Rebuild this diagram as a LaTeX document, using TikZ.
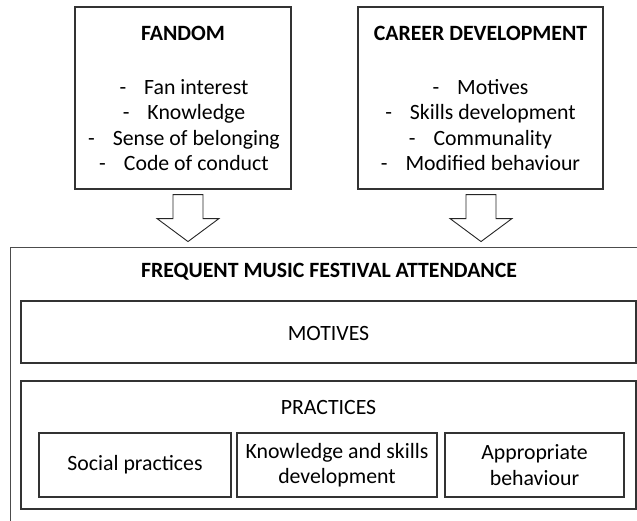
\documentclass[tikz,border=0pt]{standalone}
\usepackage{fontspec}
\setmainfont{Carlito}
\usetikzlibrary{calc}
\begin{document}
\begin{tikzpicture}[x=1pt,y=-1pt,
  box/.style={draw=black!80, line width=1.1pt, inner sep=0pt},
  blockarrow/.style={draw=black!85, line width=0.9pt, fill=white, line join=miter},
  txt/.style={font=\fontsize{21.8}{25.5}\selectfont, align=center, inner sep=0pt},
  ttl/.style={font=\fontsize{21.8}{25.5}\selectfont\bfseries, align=center, inner sep=0pt},
  downarrow/.pic={\draw[blockarrow] (-15,0)--(15,0)--(15,24)--(31,24)--(0,47)--(-31,24)--(-15,24)--cycle;}]
\useasboundingbox (0,0) rectangle (637,520);
\clip (0,0) rectangle (637,520);
% top boxes
\node[box, minimum width=216pt, minimum height=182pt] (fandom) at (183,98) {};
\node[box, minimum width=245pt, minimum height=182pt] (career) at (480.5,98) {};
\node[ttl] (fandomT) at (183,33) {FANDOM};
\node[ttl] (careerT) at (480.5,33) {CAREER DEVELOPMENT};
\node[txt] (fandomL) at (184,125) {-\hspace{18pt}Fan interest\\-\hspace{18pt}Knowledge\\-\hspace{18pt}Sense of belonging\\-\hspace{18pt}Code of conduct};
\node[txt] (careerL) at (480.5,125) {-\hspace{18pt}Motives\\-\hspace{18pt}Skills development\\-\hspace{18pt}Communality\\-\hspace{18pt}Modified behaviour};
% arrows
\pic at ($(fandom.south)+(5,5)$) {downarrow};
\pic at ($(career.south)+(0.5,5)$) {downarrow};
% outer box
\node[box, draw=black!70, minimum width=650pt, minimum height=300pt, anchor=north west] (outer) at (10,247) {};
\node[ttl] (outerT) at (329,272) {FREQUENT MUSIC FESTIVAL ATTENDANCE};
\node[box, minimum width=615pt, minimum height=62pt] (motives) at (328.5,332) {};
\node[txt] (motivesT) at (328.5,333) {MOTIVES};
\node[box, minimum width=615pt, minimum height=128pt] (practices) at (328.5,445) {};
\node[txt] (practicesT) at (328.5,407) {PRACTICES};
\node[box, minimum width=192pt, minimum height=64pt] (social) at (135,465) {};
\node[txt] at (social) {Social practices};
\node[box, minimum width=200pt, minimum height=64pt] (know) at (337,465) {};
\node[txt] at (know) {Knowledge and skills\\development};
\node[box, minimum width=179pt, minimum height=64pt] (approp) at (534.5,465) {};
\node[txt] at (approp) {Appropriate\\behaviour};
\end{tikzpicture}
\end{document}
